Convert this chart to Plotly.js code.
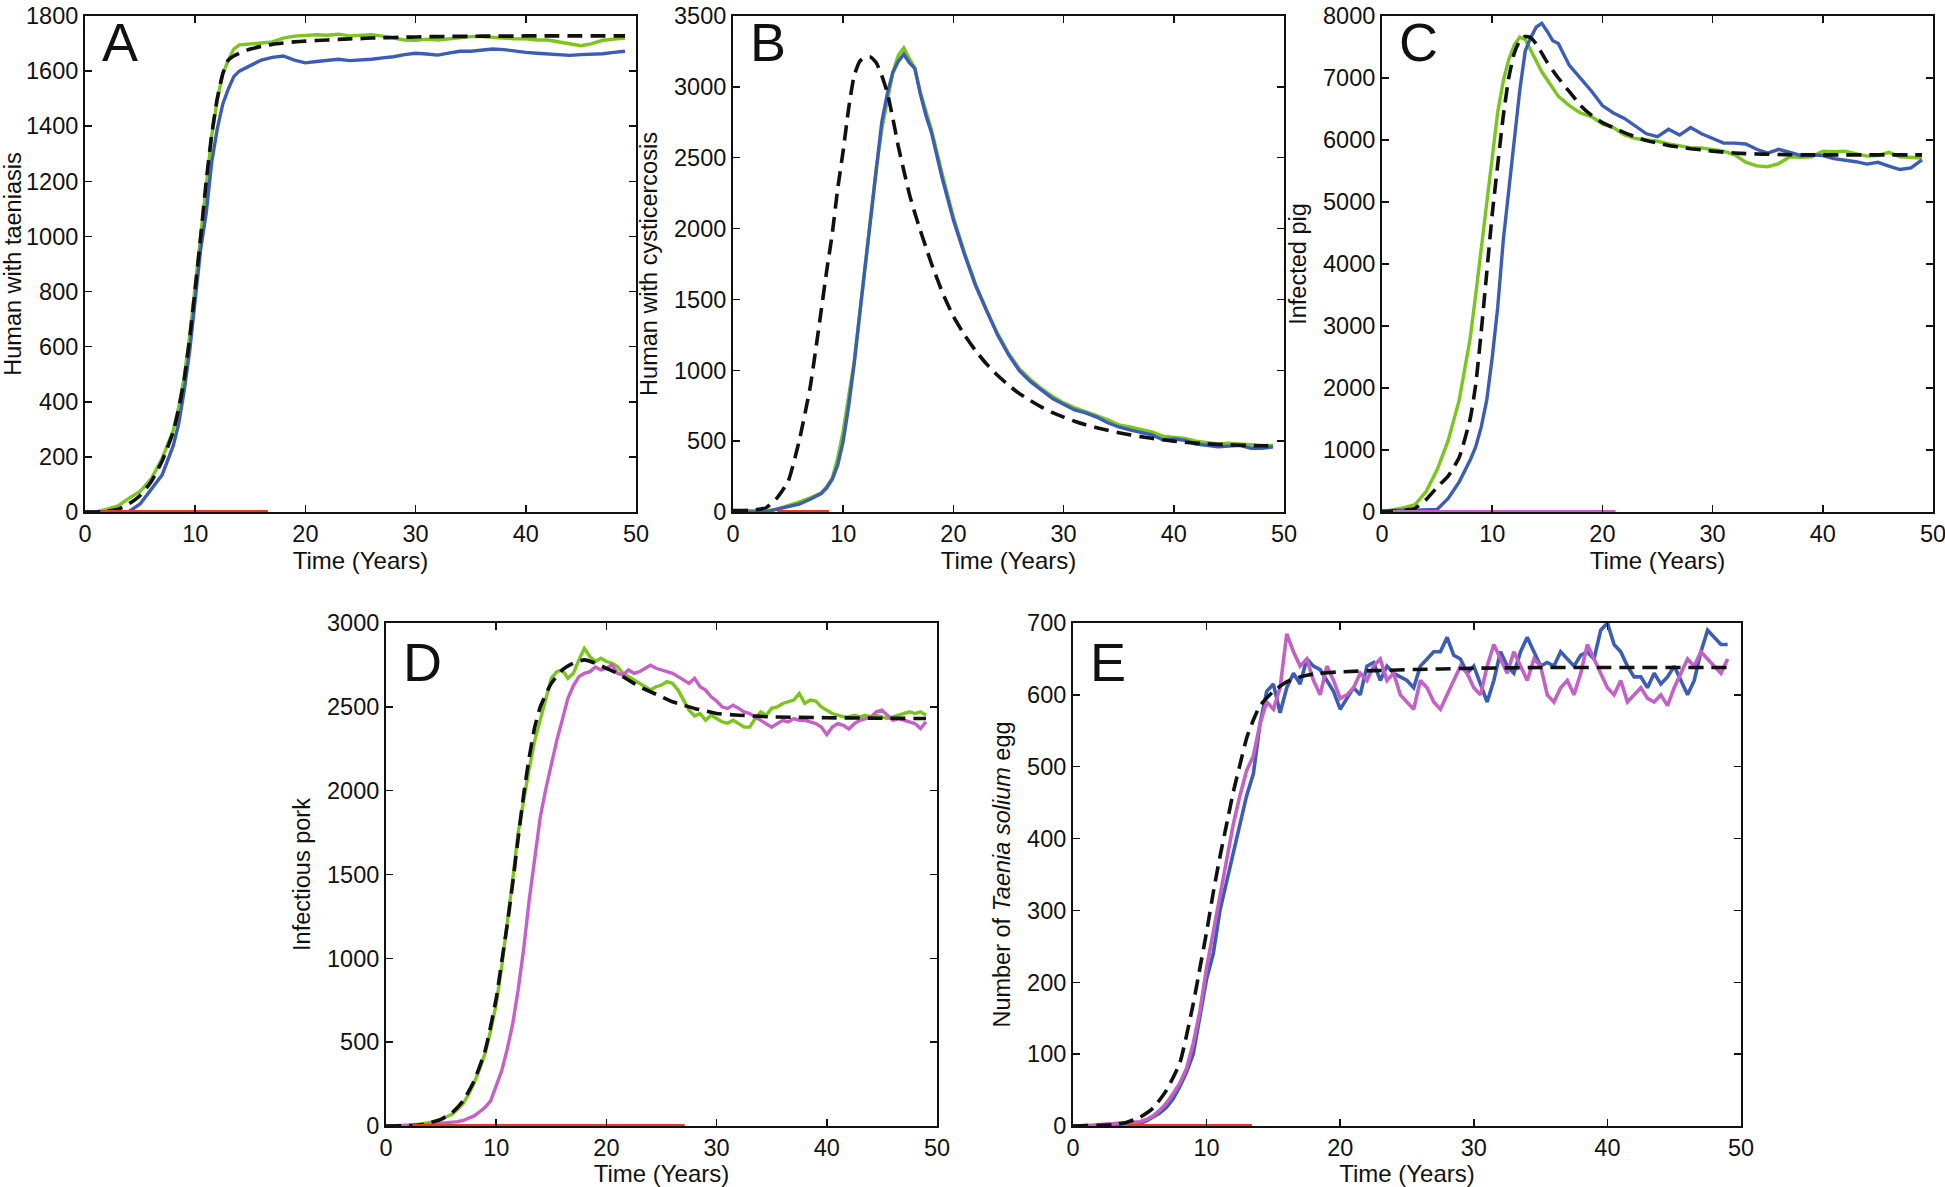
<!DOCTYPE html>
<html>
<head>
<meta charset="utf-8">
<script src="https://cdn.plot.ly/plotly-3.0.1.min.js"></script>
<style>html,body{margin:0;padding:0;background:#fff;}#chart{width:1945px;height:1187px;}</style>
</head>
<body>
<div id="chart"></div>
<script>
// ---------------- DATA ----------------
// Panel A: Human with taeniasis
const tA = [0,1,2,3,4,5,6,7,8,8.5,9,9.5,10,10.5,11,11.5,12,12.5,13,13.5,14,15,16,17,18,19,20,21,22,23,24,25,26,27,28,29,30,31,32,33,34,35,36,37,38,39,40,41,42,43,44,45,46,47,48,49];
const A_green = [0,0,10,22,50,75,120,195,295,380,490,640,820,1005,1205,1365,1495,1590,1640,1680,1695,
  1700,1702,1706,1720,1727,1730,1732,1730,1734,1728,1731,1732,1727,1720,1713,1712,1716,1713,1718,1721,1725,1725,1722,1720,1717,1717,1713,1713,1706,1696,1692,1700,1712,1716,1720];
const A_blue = [0,0,0,0,2,29,82,135,240,320,440,585,770,955,1085,1270,1390,1480,1535,1580,1600,
  1620,1640,1650,1655,1640,1630,1635,1640,1643,1638,1640,1643,1648,1652,1660,1665,1662,1658,1665,1672,1672,1676,1680,1678,1672,1668,1665,1662,1658,1657,1660,1660,1663,1668,1672];
const A_model = [0,0,3,10,30,60,110,185,290,375,480,630,810,1000,1200,1370,1500,1590,1640,1655,1665,
  1680,1690,1697,1702,1706,1709,1711,1713,1715,1717,1718,1720,1721,1722,1723,1724,1725,1725,1726,1726,1726,1727,1727,1727,1727,1728,1728,1728,1728,1728,1728,1728,1728,1728,1728];
const A_zero = [1.5, 16.6];

// Panel B: Human with cysticercosis
const tB = [0,1,2,3,4,5,6,7,8,8.5,9,9.5,10,10.5,11,11.5,12,12.5,13,13.5,14,14.5,15,15.5,16,16.5,17,17.5,18,19,20,21,22,23,24,25,26,27,28,29,30,31,32,33,34,35,36,37,38,39,40,41,42,43,44,45,46,47,48,49];
const B_model = [10,10,15,30,100,215,500,880,1420,
  1700,1960,2280,2550,2850,3080,3180,3210,3210,3170,3080,2960,2780,2580,2410,2245,2110,1987,1870,1755,
  1550,1380,1250,1140,1045,965,895,835,785,740,702,670,640,615,595,577,560,545,532,520,510,500,492,486,481,477,474,471,469,467,466];
const B_green = [10,10,10,10,20,44,70,100,134,
  180,237,380,571,820,1060,1400,1730,2080,2425,2700,2900,3100,3222,3274,3200,3130,2960,2830,2700,
  2380,2080,1830,1610,1420,1260,1120,1010,935,870,815,770,735,710,680,650,615,600,580,565,535,525,520,500,490,480,485,480,470,470,470];
const B_blue = [0,0,0,0,20,35,55,90,130,
  170,230,330,500,750,1050,1400,1750,2100,2450,2750,2950,3100,3180,3230,3170,3130,2950,2800,2680,
  2350,2060,1820,1600,1420,1250,1110,995,920,860,800,760,720,700,670,630,600,580,565,545,510,515,505,480,470,460,465,470,450,450,460];
const B_zero = [4.0, 8.7];

// Panel C: Infected pig
const tC = [0,1,2,3,4,5,6,7,8,8.5,9,9.5,10,10.5,11,11.5,12,12.5,13,13.5,14,14.5,15,15.5,16,17,18,19,20,21,22,23,24,25,26,27,28,29,30,31,32,33,34,35,36,37,38,39,40,41,42,43,44,45,46,47,48,49];
const C_green = [0,30,70,120,330,680,1150,1800,2800,
  3500,4250,5050,5800,6450,6950,7300,7530,7660,7620,7450,7262,7100,6967,6830,6703,
  6555,6437,6378,6260,6200,6083,6024,6000,5980,5936,5900,5877,5870,5848,5820,5760,5642,5583,5570,5620,5730,5720,5730,5818,5810,5820,5780,5740,5750,5800,5730,5720,5710];
const C_blue = [20,30,30,30,30,40,218,483,837,
  1050,1368,1800,2488,3300,4374,5200,6083,6800,7439,7650,7823,7882,7750,7600,7557,
  7203,6997,6791,6555,6437,6349,6231,6100,6054,6172,6080,6200,6100,6024,5950,5950,5936,5850,5789,5850,5800,5750,5760,5750,5700,5680,5650,5612,5640,5580,5524,5550,5680];
const C_model = [0,10,30,60,200,400,580,880,1500,
  2050,2900,3850,4800,5600,6380,7000,7400,7600,7670,7650,7550,7400,7250,7120,7000,
  6780,6560,6400,6280,6200,6120,6050,5990,5950,5910,5885,5860,5840,5820,5805,5790,5780,5775,5770,5765,5762,5760,5760,5760,5760,5760,5760,5760,5760,5760,5760,5760,5760];
const C_zero = [1.0, 21.2];

// Panel D: Infectious pork (half-year samples, t = 0 ... 49)
const D_green = [0,0,0,2,5,7,10,15,22,30,
  40,55,70,100,134,190,257,340,436,570,
  726,950,1195,1470,1754,1950,2133,2300,2424,2560,
  2670,2710,2720,2670,2700,2780,2848,2800,2770,2790,
  2770,2760,2740,2700,2680,2660,2640,2620,2600,2620,
  2630,2650,2640,2600,2540,2480,2446,2460,2420,2450,
  2430,2410,2402,2420,2400,2380,2379,2430,2470,2450,
  2491,2500,2520,2530,2540,2580,2520,2540,2535,2500,
  2480,2460,2450,2440,2440,2450,2440,2450,2440,2450,
  2440,2430,2440,2450,2460,2470,2460,2470,2450];
const D_magenta = [0,0,0,0,0,2,5,7,10,12,
  15,17,20,26,33,45,60,85,112,150,
  235,330,458,610,815,1060,1351,1600,1843,2010,
  2156,2300,2424,2550,2625,2680,2700,2710,2737,2720,
  2730,2750,2700,2690,2720,2700,2710,2730,2748,2730,
  2720,2710,2700,2680,2660,2640,2670,2620,2600,2560,
  2535,2500,2490,2510,2491,2470,2460,2440,2420,2400,
  2379,2400,2420,2410,2430,2420,2420,2410,2400,2380,
  2334,2380,2400,2390,2368,2400,2420,2430,2440,2470,
  2480,2450,2420,2430,2420,2410,2400,2370,2410];
const tDm = [0,3,4,5,6,7,8,9,10,10.5,11,11.5,12,12.5,13,13.5,14,15,16,17,18,19,20,21,22,23,24,25,26,27,28,29,30,32,35,40,45,49];
const D_model = [0,5,20,40,80,150,270,450,760,980,1200,1450,1720,1980,2200,2380,2500,2640,2720,2760,2780,2760,2730,2700,2660,2620,2590,2560,2530,2510,2490,2475,2460,2450,2440,2435,2432,2430];
const D_zero = [2.4, 27.1];

// Panel E: Number of Taenia solium egg (half-year samples, t = 0 ... 49)
const E_blue = [0,0,0,0,1,2,2,2,3,4,
  4,7,12,18,26,38,55,75,100,150,
  205,240,300,340,380,420,460,490,560,605,
  615,575,610,630,615,650,640,635,620,605,
  580,595,610,600,640,645,620,640,630,625,
  620,610,640,650,660,660,680,655,650,630,
  640,615,590,620,660,640,630,660,680,660,
  640,645,640,660,650,640,655,660,650,690,
  700,670,660,640,625,625,610,630,615,625,
  640,620,600,620,660,690,680,670,670];
const E_magenta = [0,0,0,1,2,2,3,4,5,5,
  6,9,14,22,32,45,60,80,115,160,
  220,270,320,375,420,460,495,515,560,590,
  580,610,685,660,640,650,620,600,640,620,
  595,600,610,630,620,640,650,620,630,600,
  590,580,620,610,590,580,600,620,640,630,
  610,600,640,670,650,630,660,640,620,650,
  640,600,590,610,620,600,630,670,650,630,
  610,600,620,590,600,610,595,590,600,585,
  610,630,650,640,660,650,640,630,650];
const tEm = [0,3,4,5,6,7,8,9,9.5,10,10.5,11,11.5,12,12.5,13,13.5,14,15,16,17,18,20,25,30,35,40,49];
const E_model = [0,2,5,12,25,50,88,170,220,270,325,375,420,465,503,540,565,585,605,618,625,629,632,635,637,638,638,638];
const E_zero = [4.1, 13.4];

// Half-year time grid for panels D and E
const tHalf = [];
for (let i = 0; i <= 98; i++) tHalf.push(i / 2);

// Axis labels
const xTitle = 'Time (Years)';
const yTitles = {
  A: 'Human with taeniasis',
  B: 'Human with cysticercosis',
  C: 'Infected pig',
  D: 'Infectious pork',
  E: 'Number of <i>Taenia solium</i> egg'
};
const yMax = {A: 1800, B: 3500, C: 8000, D: 3000, E: 700};
const yStep = {A: 200, B: 500, C: 1000, D: 500, E: 100};

// ---------------- STYLE / LAYOUT ----------------
const W = 1945, H = 1187;
const FONT = 'Liberation Sans, Arial, Helvetica, sans-serif';
const GREEN = '#7cc41e', BLUE = '#3b5db5', MAGENTA = '#c460c6', RED = '#e23b2a', BLACK = '#111111';
// plot boxes in pixels: [left, right, top, bottom]
const boxes = {A:[85,636,16,512], B:[733,1284,16,512], C:[1382,1933,16,512], D:[386,937,623,1126], E:[1073,1741,623,1126]};
// panel letter centres (pixels)
const letterPos = {A:[100,42], B:[748,42], C:[1397,42], D:[401,662], E:[1088,662]};
const panels = ['A','B','C','D','E'];

const traces = [];
function line(x, y, color, idx, dashed, width) {
  traces.push({
    x: x, y: y, type: 'scatter', mode: 'lines',
    xaxis: 'x' + (idx === 1 ? '' : idx), yaxis: 'y' + (idx === 1 ? '' : idx),
    line: {color: color, width: width || 3.4, dash: dashed ? '15px,8px' : 'solid', shape: dashed ? 'spline' : 'linear', smoothing: 0.5},
    hoverinfo: 'skip', showlegend: false
  });
}
// Panel A
line(tA, A_green, GREEN, 1);
line(tA, A_blue, BLUE, 1);
line(tA, A_model, BLACK, 1, true, 3.6);
line(A_zero, [0,0], RED, 1, false, 4);
// Panel B
line(tB, B_green, GREEN, 2);
line(tB, B_blue, BLUE, 2);
line(tB, B_model, BLACK, 2, true, 3.6);
line(B_zero, [0,0], RED, 2, false, 4);
// Panel C
line(tC, C_green, GREEN, 3);
line(tC, C_blue, BLUE, 3);
line(tC, C_model, BLACK, 3, true, 3.6);
line(C_zero, [0,0], MAGENTA, 3, false, 4);
// Panel D
line(tHalf, D_green, GREEN, 4);
line(tHalf, D_magenta, MAGENTA, 4);
line(tDm, D_model, BLACK, 4, true, 3.6);
line(D_zero, [0,0], RED, 4, false, 4);
// Panel E
line(tHalf, E_blue, BLUE, 5, false, 3.6);
line(tHalf, E_magenta, MAGENTA, 5, false, 3.6);
line(tEm, E_model, BLACK, 5, true, 3.6);
line(E_zero, [0,0], RED, 5, false, 4);

const layout = {
  width: W, height: H,
  margin: {l:0, r:0, t:0, b:0},
  paper_bgcolor: '#ffffff', plot_bgcolor: '#ffffff',
  font: {family: FONT, size: 24, color: '#111'},
  showlegend: false,
  annotations: []
};
const common = {
  ticks: 'inside', ticklen: 7, tickwidth: 1.5, tickcolor: BLACK,
  showline: true, linewidth: 2, linecolor: BLACK, mirror: 'allticks',
  showgrid: false, zeroline: false, fixedrange: true,
  ticklabeloverflow: 'allow',
  tickfont: {family: FONT, size: 23.5, color: '#111'}
};
panels.forEach((p, i) => {
  const n = i + 1, s = n === 1 ? '' : String(n);
  const b = boxes[p];
  layout['xaxis' + s] = Object.assign({}, common, {
    domain: [b[0]/W, b[1]/W], range: [0, 50], tick0: 0, dtick: 10, anchor: 'y' + s,
    title: {text: xTitle, font: {family: FONT, size: 24, color: '#111'}, standoff: 2}
  });
  layout['yaxis' + s] = Object.assign({}, common, {
    domain: [1 - b[3]/H, 1 - b[2]/H], range: [0, yMax[p]], tick0: 0, dtick: yStep[p], anchor: 'x' + s,
    title: {text: yTitles[p], font: {family: FONT, size: 23.5, color: '#111'}, standoff: 10}
  });
  const lp = letterPos[p];
  layout.annotations.push({
    text: p, xref: 'paper', yref: 'paper', showarrow: false,
    x: lp[0]/W, y: 1 - lp[1]/H, xanchor: 'left', yanchor: 'middle',
    font: {family: FONT, size: 54, color: '#111'}
  });
});

Plotly.newPlot('chart', traces, layout, {staticPlot: true, displayModeBar: false});
</script>
</body>
</html>
